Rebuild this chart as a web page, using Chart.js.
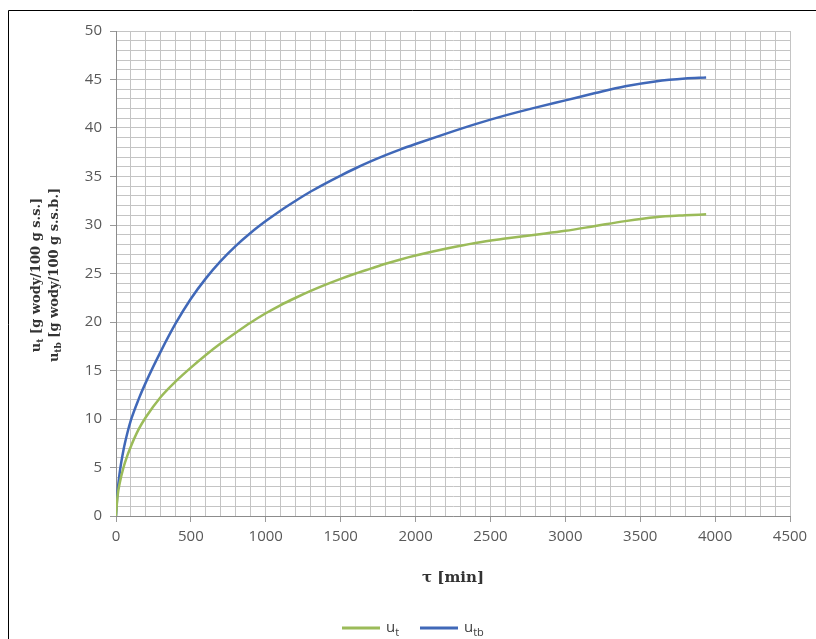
<!DOCTYPE html>
<html><head><meta charset="utf-8">
<script src="https://cdn.jsdelivr.net/npm/chart.js@4"></script>
<style>html,body{margin:0;padding:0;background:#fff;overflow:hidden}#wrap{position:relative;width:816px;height:639px}canvas{display:block}</style>
</head><body><div id="wrap"><canvas id="c" width="816" height="639"></canvas></div>
<script>
// time [min]
const times = [0,10,25,50,75,100,150,200,300,400,500,600,700,800,900,1000,1100,1200,1300,1400,1500,1600,1700,1800,1900,2000,2200,2400,2600,2800,3000,3200,3400,3600,3800,3940];
// u_t [g wody/100 g s.s.]
const utValues = [0,2.0,3.4,5.0,6.2,7.2,8.9,10.2,12.3,13.9,15.3,16.6,17.8,18.9,19.95,20.9,21.75,22.5,23.2,23.85,24.45,25.0,25.5,26.0,26.45,26.85,27.55,28.15,28.6,29.0,29.4,29.9,30.4,30.8,31.0,31.1];
// u_tb [g wody/100 g s.s.b.]
const utbValues = [0,2.4,4.5,6.8,8.5,9.9,12.0,13.8,17.0,19.9,22.4,24.5,26.3,27.85,29.2,30.4,31.5,32.5,33.45,34.3,35.1,35.85,36.55,37.2,37.8,38.35,39.4,40.4,41.3,42.1,42.85,43.6,44.3,44.8,45.1,45.2];
const xTickLabels = ['0','500','1000','1500','2000','2500','3000','3500','4000','4500'];
const yTickLabels = ['0','5','10','15','20','25','30','35','40','45','50'];
const seriesMain = ['u','u'];
const seriesSub = ['t','tb'];
const seriesColors = ['#9bbb59','#4068b8'];
const xTitle = 'τ [min]';
const yTitleLines = [
  [['u',0],['t',1],[' [g wody/100 g s.s.]',0]],
  [['u',0],['tb',1],[' [g wody/100 g s.s.b.]',0]]
];

function drawRich(ctx, parts, x, y, size, family, weight, align) {
  const fMain = weight + ' ' + size + 'px ' + family;
  const fSub = weight + ' ' + Math.round(size*0.7) + 'px ' + family;
  let w = 0;
  parts.forEach(p => { ctx.font = p[1] ? fSub : fMain; w += ctx.measureText(p[0]).width; });
  let cx = align === 'center' ? x - w/2 : x;
  parts.forEach(p => {
    ctx.font = p[1] ? fSub : fMain;
    ctx.fillText(p[0], cx, y + (p[1] ? size*0.3 : 0));
    cx += ctx.measureText(p[0]).width;
  });
}

const extras = {
  id: 'extras',
  afterDraw(chart) {
    const ctx = chart.ctx;
    ctx.save();
    // outer frame
    ctx.strokeStyle = '#000'; ctx.lineWidth = 1;
    ctx.beginPath(); ctx.moveTo(8.5, 639); ctx.lineTo(8.5, 10.5); ctx.lineTo(816, 10.5); ctx.stroke();
    // y title
    ctx.fillStyle = '#333';
    ctx.textBaseline = 'middle';
    const xs = [37, 55];
    yTitleLines.forEach((line, i) => {
      ctx.save();
      ctx.translate(xs[i], 275);
      ctx.rotate(-Math.PI/2);
      drawRich(ctx, line, 0, 0, 13, "'DejaVu Serif'", 'bold', 'center');
      ctx.restore();
    });
    // legend
    const ly = 628;
    const lx = [342, 420];
    chart.data.datasets.forEach((ds, i) => {
      ctx.strokeStyle = ds.borderColor; ctx.lineWidth = 3;
      ctx.beginPath(); ctx.moveTo(lx[i], ly); ctx.lineTo(lx[i]+38, ly); ctx.stroke();
      ctx.fillStyle = '#404040';
      drawRich(ctx, [[seriesMain[i],0],[seriesSub[i],1]], lx[i]+44, ly, 15, "'Open Sans'", 'normal', 'left');
    });
    ctx.restore();
  }
};

new Chart(document.getElementById('c'), {
  type: 'line',
  data: {
    datasets: [
      { label: 'u_t', data: times.map((t, i) => ({x: t, y: utValues[i]})), borderColor: seriesColors[0], borderWidth: 2.5, pointRadius: 0, fill: false, cubicInterpolationMode: 'monotone' },
      { label: 'u_tb', data: times.map((t, i) => ({x: t, y: utbValues[i]})), borderColor: seriesColors[1], borderWidth: 2.5, pointRadius: 0, fill: false, cubicInterpolationMode: 'monotone' }
    ]
  },
  options: {
    responsive: false,
    animation: false,
    devicePixelRatio: 1,
    layout: { padding: { top: 31, right: 26, bottom: 0, left: 0 } },
    plugins: { legend: { display: false }, tooltip: { enabled: false } },
    scales: {
      x: {
        type: 'linear', min: 0, max: 4500,
        afterFit: s => { s.height = 123; },
        ticks: {
          stepSize: 100, autoSkip: false, maxRotation: 0, minRotation: 0,
          callback: v => (v % 500 === 0 ? xTickLabels[v/500] : ''),
          font: { family: "'Open Sans'", size: 15 }, color: '#595959', padding: 6
        },
        grid: { color: '#c4c4c4', lineWidth: 1, tickLength: 6,
          tickColor: c => (c.tick && c.tick.value % 500 === 0 ? '#9a9a9a' : 'rgba(0,0,0,0)') },
        border: { color: '#8c8c8c' },
        title: { display: true, text: xTitle, font: { family: "'DejaVu Serif'", size: 15, weight: 'bold' }, color: '#333', padding: { top: 0, bottom: 52 } }
      },
      y: {
        min: 0, max: 50,
        afterFit: s => { s.width = 116; },
        ticks: {
          stepSize: 1, autoSkip: false,
          callback: v => (v % 5 === 0 ? yTickLabels[v/5] : ''),
          font: { family: "'Open Sans'", size: 15 }, color: '#595959', padding: 8
        },
        grid: { color: '#c4c4c4', lineWidth: 1, tickLength: 6,
          tickColor: c => (c.tick && c.tick.value % 5 === 0 ? '#9a9a9a' : 'rgba(0,0,0,0)') },
        border: { color: '#8c8c8c' }
      }
    }
  },
  plugins: [extras]
});
</script>
</body></html>
